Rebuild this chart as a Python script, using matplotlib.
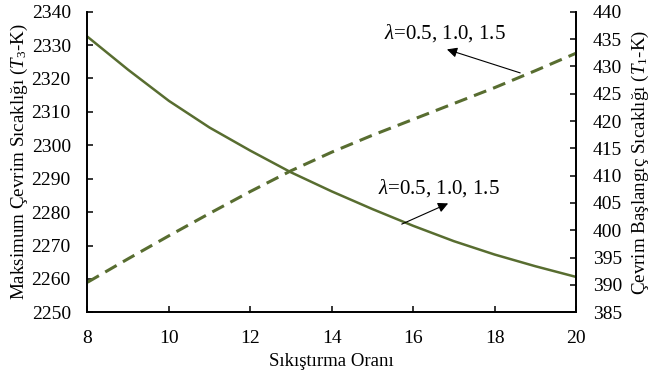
import matplotlib
matplotlib.use("Agg")
import matplotlib.pyplot as plt

plt.rcParams['font.family'] = ['Liberation Serif', 'DejaVu Serif']
plt.rcParams['mathtext.fontset'] = 'custom'
plt.rcParams['mathtext.rm'] = 'Liberation Serif'
plt.rcParams['mathtext.it'] = 'Liberation Serif:italic'

compression_ratio = [8, 9, 10, 11, 12, 13, 14, 15, 16, 17, 18, 19, 20]
t3_max = [2332.5, 2322.6, 2313.3, 2305.3, 2298.4, 2291.9, 2286.2,
          2280.9, 2275.9, 2271.3, 2267.3, 2263.8, 2260.6]
t1_start = [390.5, 394.8, 399.0, 403.1, 407.1, 410.9, 414.3,
            417.4, 420.3, 423.2, 426.1, 429.2, 432.4]
xticks = [8, 10, 12, 14, 16, 18, 20]
left_ticks = list(range(2250, 2341, 10))
right_ticks = list(range(385, 441, 5))
ann_text = r'$\mathit{\lambda}$=0.5, 1.0, 1.5'

color = '#586D30'

fig = plt.figure(figsize=(6.52, 3.81), dpi=100)
ax = fig.add_axes([0.1342, 0.1803, 0.8834 - 0.1342, 0.9693 - 0.1803])
ax2 = ax.twinx()

ax.plot(compression_ratio, t3_max, color=color, lw=1.8, solid_joinstyle='round')
ax2.plot(compression_ratio, t1_start, color=color, lw=2.2, dashes=(4.3, 2.4),
         dash_capstyle='butt', dash_joinstyle='round')

ax.set_xlim(8, 20)
ax.set_ylim(2250, 2340)
ax2.set_ylim(385, 440)
ax.set_xticks(xticks)
ax.set_yticks(left_ticks)
ax2.set_yticks(right_ticks)

for a in (ax, ax2):
    for s in a.spines.values():
        s.set_linewidth(1.25)
        s.set_color('black')
    a.tick_params(direction='in', length=4, width=1.1, labelsize=14, colors='black')
ax.spines['top'].set_visible(False)
ax2.spines['top'].set_visible(False)
ax.tick_params(axis='x', pad=13)
ax.tick_params(axis='y', pad=12)
ax2.tick_params(axis='y', pad=12)

ax.set_xlabel('Sıkıştırma Oranı', fontsize=13.5, labelpad=4)
ax.set_ylabel('Maksimum Çevrim Sıcaklığı ($T_3$-K)', fontsize=13.7, labelpad=1)
ax2.set_ylabel('Çevrim Başlangıç Sıcaklığı ($T_1$-K)', fontsize=13.7, rotation=90,
               labelpad=6)

# annotations
ax2.annotate('', xy=(16.83, 433.1), xytext=(18.63, 428.8),
             arrowprops=dict(arrowstyle='-|>', color='black', lw=0.8,
                             mutation_scale=15, shrinkA=0, shrinkB=0))
ax2.text(16.78, 436.1, ann_text, fontsize=15, ha='center', va='center')

ax.annotate('', xy=(16.86, 2282.6), xytext=(15.72, 2276.4),
            arrowprops=dict(arrowstyle='-|>', color='black', lw=0.8,
                            mutation_scale=15, shrinkA=0, shrinkB=0))
ax.text(16.63, 2287.2, ann_text, fontsize=15, ha='center', va='center')

fig.savefig('out.png', dpi=100)
